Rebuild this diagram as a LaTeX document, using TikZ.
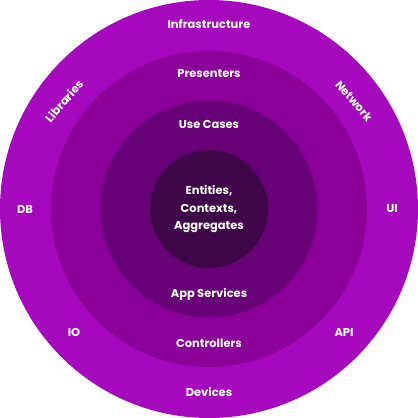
\documentclass[tikz,border=0pt]{standalone}
\usepackage{fontspec}
\setmainfont{Poppins}
\definecolor{ringA}{HTML}{A508BD}
\definecolor{ringB}{HTML}{8A0099}
\definecolor{ringC}{HTML}{680077}
\definecolor{ringD}{HTML}{3E0548}
\begin{document}
\begin{tikzpicture}[x=1bp,y=1bp,
  lbl/.style={text=white,font=\fontsize{11.5}{18}\selectfont\bfseries,inner sep=0pt,align=center}]
\useasboundingbox (-209,-209) rectangle (209,209);
\fill[white] (-209,-209) rectangle (209,209);
\fill[ringA] (0,0) circle (209);
\fill[ringB] (0,0) circle (158);
\fill[ringC] (0,0) circle (108.5);
\fill[ringD] (0,0) circle (59);
\node[lbl] (infra) at (0,185) {Infrastructure};
\node[lbl] (pres) at (0,135) {Presenters};
\node[lbl] (uc) at (0,85) {Use Cases};
\node[lbl] (core) at (0,0) {Entities,\\Contexts,\\Aggregates};
\node[lbl] (apps) at (0,-85) {App Services};
\node[lbl] (ctrl) at (0,-134) {Controllers};
\node[lbl] (dev) at (0,-183) {Devices};
\node[lbl] (db) at (-184,0) {DB};
\node[lbl] (ui) at (183,0) {UI};
\node[lbl] (io) at (-135,-123) {IO};
\node[lbl] (api) at (135,-123) {API};
\node[lbl,rotate=49] (lib) at (-145,108) {Libraries};
\node[lbl,rotate=-49] (net) at (145,108) {Network};
\end{tikzpicture}
\end{document}
